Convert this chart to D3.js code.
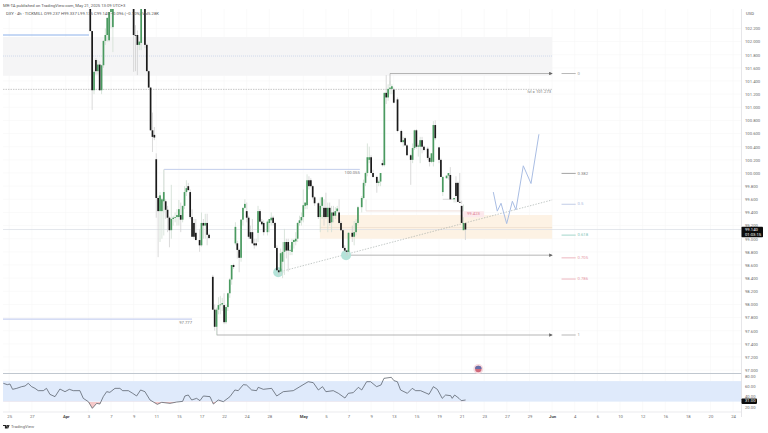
<!DOCTYPE html>
<html><head><meta charset="utf-8">
<script src="https://cdn.jsdelivr.net/npm/d3@7"></script>
<style>html,body{margin:0;padding:0;background:#fff}svg{display:block;font-family:Roboto,sans-serif}</style>
</head><body><svg id="c" width="768" height="433"></svg>
<script>
// bar number, counted in 4h bars from 3 Apr
const bars=[1,2,3,4,5,6,7,8,9,10,11,12,13,24,25,26,27,28,30,31,32,33,34,35,36,37,38,39,40,41,42,43,44,45,46,47,48,49,50,51,52,53,54,55,56,57,59,60,61,62,63,64,66,67,68,69,70,71,72,73,74,75,76,77,78,79,80,81,82,83,84,85,86,87,88,89,90,91,92,93,95,96,97,98,99,100,101,102,103,104,105,106,107,108,109,110,111,112,113,114,115,116,117,118,119,120,122,123,124,125,126,127,128,129,130,131,132,133,134,135,136,137,138,140,141,142,143,145,146,147,148,149,150,151,153,154,155,156,157,158,159,160,161,162,164,166,167,168,169,171,172,173,174,175,176,177,178,180,181,182,183,184,186,187,188,190,191,192,194,195,196,197,198,199,200];
const opens=[102.6,102.16,101.26,101.72,101.55,101.65,101.26,101.64,102.01,102.1,102.02,102.45,102.22,102.6,102.1,102.1,101.95,101.98,102.6,101.95,101.55,101.3,100.65,100.58,100.21,99.62,99.42,99.42,99.57,99.57,99.44,99.32,99.13,99.3,99.32,99.33,99.33,99.36,99.29,99.5,99.71,99.8,99.71,99.33,99.24,99.09,98.98,98.9,99.24,99.2,99.24,99.06,98.42,97.92,97.66,97.92,97.99,98,97.99,97.73,97.96,98.17,98.38,98.6,98.93,98.93,98.83,98.71,99.29,99.47,99.42,99.32,99.1,99.1,98.93,98.93,99.09,99.42,99.26,99.24,99.1,99.24,99.28,99.32,99.24,98.86,98.52,98.5,98.65,98.8,98.95,98.95,98.82,98.8,98.95,98.96,99,99.24,99.28,99.33,99.5,99.51,99.89,99.89,99.8,99.63,99.54,99.33,99.5,99.47,99.47,99.33,99.47,99.25,99.4,99.35,99.42,99.4,99.24,99.13,98.86,98.82,98.8,99.09,99.03,99.1,99.24,99.48,99.62,99.85,100,100.2,100.24,100,99.94,99.85,99.87,100.15,100.12,101.22,101.15,101.28,101.28,101.27,101.12,100.64,100.47,100.53,100.42,100.27,100.2,100.38,100.65,100.4,100.4,100.5,100.4,100.37,100.23,100.17,100.17,100.73,100.39,100.2,99.71,99.92,99.96,99.97,99.6,99.85,99.85,99.56,99.5,99.13,99.237];
const highs=[102.7,102.16,101.57,101.75,101.72,101.7,101.65,102.02,102.2,102.37,102.45,102.7,102.7,102.7,102.25,102.17,102,102.7,102.7,101.97,101.56,101.31,100.92,100.7,100.3,99.65,99.71,99.62,100.05,99.6,99.5,99.34,99.82,99.35,99.4,99.45,99.59,99.55,99.5,99.8,99.89,99.85,99.75,99.45,99.3,99.3,99.15,99.4,99.3,99.38,99.38,99.08,98.45,98,97.95,98.11,98.13,98.1,98.17,98,98.18,98.4,98.6,98.62,99.25,98.97,98.85,99.3,99.47,99.6,99.55,99.35,99.2,99.3,99,99,99.5,99.45,99.3,99.28,99.28,99.3,99.4,99.35,99.26,98.9,98.54,98.85,98.95,99.15,99,99,98.9,99,99,99.1,99.25,99.35,99.4,99.75,99.55,99.98,99.95,99.92,99.82,99.65,99.56,99.63,99.64,99.6,99.7,99.55,99.55,99.5,99.5,99.48,99.5,99.6,99.27,99.15,98.9,98.83,99.1,99.2,99.27,99.3,99.5,99.65,99.9,100.02,100.45,100.4,100.27,100.05,99.96,99.9,100,100.2,101.22,101.49,101.35,101.4,101.35,101.3,101.15,100.66,100.55,100.55,100.44,100.29,100.45,100.66,100.67,100.45,100.55,100.55,100.42,100.4,100.25,100.3,100.79,100.8,100.4,100.22,99.95,99.96,100,100.09,99.62,99.95,99.87,100,99.58,99.52,99.24,99.337];
const lows=[102.16,100.96,101.2,101.5,101.5,101.25,101.2,101.6,101.95,102,102,102.2,101.84,101.54,101.55,101.49,101.87,101.87,101.9,101.55,101.3,100.65,100.32,100.5,99.32,98.72,98.95,99,99.05,99.3,99.1,98.87,99,99.2,99.25,99.2,99.2,99.1,99.25,99.45,99.65,99.73,99.3,99.03,99,98.98,98.8,98.88,99,99,98.9,99,97.92,97.6,97.53,97.85,97.85,97.9,97.7,97.7,97.9,98.1,98.3,98.54,98.9,98.7,98.49,98.65,99.2,99.45,99.25,99,99,98.92,98.85,98.88,98.95,99.25,99.2,99.05,99.05,99.1,99.2,99.2,98.86,98.52,98.44,98.45,98.4,98.45,98.7,98.5,98.75,98.75,98.85,98.9,98.95,99.2,99.2,99.25,99.45,99.45,99.75,99.78,99.6,99.5,99.3,99.1,99.3,99.2,99.3,99.1,99.2,99.1,99.25,99.3,99.4,99.22,99.12,98.85,98.8,98.74,98.75,98.95,98.9,99.05,99.2,99.4,99.6,99.8,99.95,100.15,100,99.93,99.7,99.8,99.8,100.1,100.1,101.05,101.1,101.2,101.2,101.06,100.62,100.47,100.4,100.42,100.27,99.82,100.15,100.35,100.37,100.25,100.15,100.3,100.33,100.2,100.1,100.15,100.1,100.5,100.15,99.94,99.65,99.92,99.9,99.6,99.55,99.55,99.6,99.56,99.53,99.24,98.98,99.135];
const closes=[102.16,101.26,101.54,101.55,101.65,101.26,101.64,102.01,102.1,102.36,102.45,102.6,102.6,102.1,102.09,101.95,102,102.6,101.95,101.55,101.3,100.65,100.55,100.54,99.62,99.42,99.66,99.6,99.71,99.44,99.32,99.13,99.3,99.32,99.33,99.36,99.45,99.29,99.5,99.71,99.77,99.74,99.33,99.03,99.03,98.98,98.9,99.24,99.2,99.24,99.06,99.01,97.92,97.66,97.92,97.99,98,98.02,97.73,97.96,98.17,98.38,98.6,98.57,99.18,98.83,98.71,99.29,99.47,99.53,99.32,99.03,99,98.93,98.9,98.9,99.42,99.26,99.22,99.1,99.26,99.3,99.32,99.24,98.86,98.52,98.49,98.78,98.8,98.95,98.82,98.82,98.83,98.95,98.98,99,99.24,99.28,99.33,99.51,99.55,99.89,99.8,99.8,99.63,99.54,99.33,99.5,99.63,99.33,99.33,99.47,99.24,99.4,99.35,99.42,99.46,99.24,99.13,98.86,98.82,98.8,99.09,99.03,99.1,99.24,99.48,99.62,99.85,100,100.24,100.24,100,99.94,99.85,99.87,100,100.12,101.22,101.15,101.28,101.3,101.32,101.07,100.64,100.47,100.5,100.42,100.27,100.2,100.38,100.65,100.4,100.42,100.5,100.4,100.35,100.23,100.17,100.3,100.73,100.53,100.2,99.94,99.94,99.96,100,99.6,99.62,99.65,99.56,99.55,99.24,99.24,99.14];
const timeTickBars=[-42,-30,-12,0,12,24,36,48,60,72,84,96,114,126,138,150,162,174,186,198,210,222,234,246,258,270,282,294,306,318,330,342];
const timeTickLabels=["25","27","Apr","3","7","9","11","15","17","22","24","28","May","5","7","9","13","15","19","21","23","27","29","Jun","4","6","10","12","16","18","20","24"];
const priceTicks=[102.2,102,101.8,101.6,101.4,101.2,101,100.8,100.6,100.4,100.2,100,99.8,99.6,99.4,99.2,99,98.8,98.6,98.4,98.2,98,97.8,97.6,97.4,97.2,97];
const rsiTicks=[80,60,40,20];
const rsiBars=[-45.1,-43,-41.6,-40.2,-38,-35.4,-33.6,-31.9,-30.1,-28.3,-26.6,-23.9,-22.2,-20.4,-17.7,-15.1,-12.4,-10.1,-8,-4.5,-2.7,0,2.1,4.4,6.1,7.9,9.7,11.4,14.1,16.7,18.2,21.2,23.5,25.6,27.7,30,32.7,36.6,38.9,43.3,46.8,50,51.2,53,54.8,57.4,59.2,61,64.5,66.3,68.9,71.6,75.1,77.7,79.5,82.2,83.9,86.6,89.2,90.1,92.8,97.2,99.9,103.4,108.7,112.2,116.6,119.3,122,124.2,126,129.9,132.6,136.1,137.9,140.5,143.2,145,147.6,149.7,152.9,155.2,156.8,160.7,162.1,163.9,165.6,169.2,171.8,173.6,176.2,180.7,183,185.1,187.7,189.5,192.2,193,194.3,196.6,197.8,200.1];
const rsiValues=[65.7,63.1,64.4,54,55.9,59.2,60.5,65.7,59.2,55.9,51.4,51.4,55.9,44.2,39.7,54.6,49.4,54,51.4,51.4,36.4,29.9,16.9,26.6,25.3,39.7,49.4,48.1,55.9,55.9,51.4,51.4,46.2,41,52.7,49.4,33.2,24.7,28.6,26.6,29.2,30.5,41,42.9,33.2,36.4,31.9,41,39.7,25.3,33.2,29.9,39.7,52.7,51.4,63.1,62.4,52.7,51.4,57.9,54,55.9,41,49.4,51.4,59.2,68.9,67,52.7,59.2,49.4,51.4,46.2,37,46.2,47.5,57.9,52.7,68.9,68.9,59.2,62.4,75.4,77.4,70.9,68.9,52.7,46.2,55.9,51.4,51.4,44.2,59.2,54,36.4,42.9,41.6,36.4,42.9,36.4,31.9,33.2];
const projBars=[214.8,216.9,218.9,221.9,224.9,226.8,230.7,234.8,239];
const projPrices=[99.71,99.42,99.54,99.23,99.57,99.44,100.11,99.84,100.59];
const fibLevels=[0,0.382,0.5,0.618,0.705,0.786,1];
const fibLabels=["0","0.382","0.5","0.618","0.705","0.786","1"];
const fibColors=["#999","#808080","#a9b8dc","#7cc4b6","#e596a4","#e596a4","#999"];
const fibTop=101.514, fibBottom=97.535;
const lastPrice=99.14, lastRsi=31;

const W=768,H=433,svg=d3.select("#c");
const x=d3.scaleLinear().domain([-42,342]).range([9.2,733.1]);
const y=d3.scaleLinear().domain([101,98.2]).range([107.3,291.3]);
const yR=d3.scaleLinear().domain([80,20]).range([376,406.75]);
const L=3,R=741.5,T=9,B=373.5,RB=412;
const defs=svg.append("defs");
defs.append("clipPath").attr("id","pane").append("rect").attr("x",L).attr("y",T).attr("width",R-L).attr("height",B-T);
defs.append("clipPath").attr("id","below").append("rect").attr("x",L).attr("y",yR(30)).attr("width",R-L).attr("height",RB-yR(30));
defs.append("marker").attr("id","arr").attr("viewBox","0 0 6 6").attr("refX",5).attr("refY",3).attr("markerWidth",3.5).attr("markerHeight",3.5).attr("markerUnits","userSpaceOnUse").attr("orient","auto").append("path").attr("d","M0,0L6,3L0,6Z").attr("fill","#666");
svg.append("rect").attr("width",W).attr("height",H).attr("fill","#fff");

// grid
const grid=svg.append("g").attr("stroke","#f6f6f7").attr("stroke-width",.6);
grid.selectAll(".v").data(timeTickBars).join("line").attr("x1",d=>x(d)).attr("x2",d=>x(d)).attr("y1",T).attr("y2",RB);
grid.selectAll(".h").data(priceTicks).join("line").attr("x1",L).attr("x2",R).attr("y1",d=>y(d)).attr("y2",d=>y(d));

const g=svg.append("g").attr("clip-path","url(#pane)");
const hl=(p,a,b,c,w,dash)=>{const l=g.append("line").attr("x1",x(a)).attr("x2",x(b)).attr("y1",y(p)).attr("y2",y(p)).attr("stroke",c).attr("stroke-width",w);if(dash)l.attr("stroke-dasharray",dash);return l;};
const vl=(k,p1,p2,c,w)=>g.append("line").attr("x1",x(k)).attr("x2",x(k)).attr("y1",y(p1)).attr("y2",y(p2)).attr("stroke",c).attr("stroke-width",w);
const box=(a,b,p1,p2,f)=>g.append("rect").attr("x",x(a)).attr("width",x(b)-x(a)).attr("y",y(p1)).attr("height",y(p2)-y(p1)).attr("fill",f);

box(-45.3,246,102.07,101.48,"#f5f5f6");
hl(101.78,-45.3,246,"#b3c5e2",.6,"1 1");
hl(101.273,-45.3,246,"#a3a3a3",.6,"1.5 1");
hl(102.1,-45.3,0.3,"#7fa8e8",.9);
hl(100.055,40.1,144,"#bcc8ea",.9);
vl(40.1,100.055,99.4,"#e0e0e0",.8);
hl(97.777,-45.3,55,"#c7d0f0",1.1);
box(122.8,246,99.36,99,"#fdf2e4");
hl(99.17,122.8,246,"#ead9c6",.6);
hl(lastPrice,-45.3,400,"#d9dce4",.7);
hl(99.423,147.3,198.7,"#ead6d0",.8);
vl(147.3,99.6,99.423,"#dcdcdc",.7);
hl(99.6,188,194,"#cfcfcf",.8);
[[160,101.514,101.33],[68.2,97.535,97.66],[137.2,98.75,98.8]].forEach(d=>vl(d[0],d[1],d[2],"#b5b5b5",.8));
[[160,101.514],[137.2,98.75],[68.2,97.535]].forEach(d=>hl(d[1],d[0],246,"#a2a2a2",.8).attr("marker-end","url(#arr)"));
// trend
g.append("line").attr("x1",x(100.7)).attr("y1",y(98.49)).attr("x2",x(246)).attr("y2",y(99.59)).attr("stroke","#98a2a0").attr("stroke-width",.6).attr("stroke-dasharray","1.4 1.4");
g.selectAll(".dot").data([[100.7,98.49],[136.7,98.75]]).join("circle").attr("cx",d=>x(d[0])).attr("cy",d=>y(d[1])).attr("r",5).attr("fill","#b4e3d9");

// candles
const idx=d3.range(bars.length);
g.selectAll(".w").data(idx).join("line").attr("x1",i=>x(bars[i])).attr("x2",i=>x(bars[i])).attr("y1",i=>y(highs[i])).attr("y2",i=>y(lows[i])).attr("stroke",i=>closes[i]>=opens[i]?"#cfddd2":"#d0d0d0").attr("stroke-width",.8);
g.selectAll(".b").data(idx).join("rect").attr("x",i=>x(bars[i])-.85).attr("width",1.7).attr("y",i=>y(Math.max(opens[i],closes[i]))).attr("height",i=>Math.max(.8,Math.abs(y(opens[i])-y(closes[i])))).attr("fill",i=>closes[i]>=opens[i]?"#4a9a60":"#1a1a1a");

// projection
g.append("path").datum(d3.range(projBars.length)).attr("d",d3.line().x(i=>x(projBars[i])).y(i=>y(projPrices[i]))).attr("fill","none").attr("stroke","#a9bde3").attr("stroke-width",1);

// labels in pane
const txt=(X,Y,s,c,o={})=>svg.append("text").attr("x",X).attr("y",Y).attr("fill",c).attr("font-size",o.fs||4.2).attr("font-weight",o.fw||400).attr("text-anchor",o.a||"start").attr("dominant-baseline","middle").text(s);
txt(x(246)-1,y(101.273)+2.8,"lvl = 101.273","#777",{a:"end"});
txt(x(144),y(100.055)+3.4,"100.055","#777",{a:"end"});
txt(x(55),y(97.777)+3.3,"97.777","#777",{a:"end"});
svg.append("rect").attr("x",x(198.7)).attr("y",y(99.423)+.3).attr("width",21).attr("height",6).attr("fill","#fce8ec");
txt(x(198.7)+10.5,y(99.423)+3.4,"99.423","#dd8090",{a:"middle"});

// fib key
const fibY=f=>y(fibTop-(fibTop-fibBottom)*f);
svg.selectAll(".fl").data(fibLevels).join("line").attr("x1",x(251)).attr("x2",x(258.5)).attr("y1",fibY).attr("y2",fibY).attr("stroke",(d,i)=>fibColors[i]).attr("stroke-width",.7);
fibLevels.forEach((f,i)=>txt(x(259.5),fibY(f),fibLabels[i],fibColors[i]));

// panes
svg.append("rect").attr("x",L).attr("y",yR(70)).attr("width",R-L).attr("height",yR(30)-yR(70)).attr("fill","#dfeafb");
const ridx=d3.range(rsiBars.length);
svg.append("path").datum(ridx).attr("clip-path","url(#below)").attr("d",d3.area().x(i=>x(rsiBars[i])).y0(yR(30)).y1(i=>yR(rsiValues[i]))).attr("fill","#f6c9c9");
svg.append("path").datum(ridx).attr("d",d3.line().x(i=>x(rsiBars[i])).y(i=>yR(rsiValues[i]))).attr("fill","none").attr("stroke","#4a525c").attr("stroke-width",.7);
svg.append("line").attr("x1",L).attr("x2",R).attr("y1",B).attr("y2",B).attr("stroke","#b9c1ca").attr("stroke-width",.9);
svg.append("line").attr("x1",L).attr("x2",R).attr("y1",RB).attr("y2",RB).attr("stroke","#e2e3e6").attr("stroke-width",.7);
svg.append("line").attr("x1",R).attr("x2",R).attr("y1",T).attr("y2",RB+5).attr("stroke","#dfe0e3").attr("stroke-width",.8);

// flag
svg.append("circle").attr("cx",478.3).attr("cy",369).attr("r",5).attr("fill","#f5dde2");
svg.append("circle").attr("cx",478.3).attr("cy",369).attr("r",3.2).attr("fill","#d0697a");
svg.append("path").attr("d",d3.arc()({innerRadius:0,outerRadius:3.2,startAngle:-Math.PI/2,endAngle:Math.PI/2})).attr("transform","translate(478.3,369)").attr("fill","#6670aa");

// axes
const style=s=>{s.select(".domain").remove();s.selectAll(".tick line").remove();s.selectAll("text").attr("font-family","Roboto,sans-serif").attr("font-size",4.2).attr("fill","#6a6a6a");};
svg.append("g").attr("transform",`translate(${R+3.5},0)`).call(d3.axisRight(y).tickValues(priceTicks).tickSize(0).tickPadding(0).tickFormat(d3.format(".3f"))).call(style);
svg.append("g").attr("transform",`translate(${R+3.5},0)`).call(d3.axisRight(yR).tickValues(rsiTicks).tickSize(0).tickPadding(0).tickFormat(d3.format(".2f"))).call(style);
const tx=svg.append("g").attr("transform",`translate(0,${RB+2})`).call(d3.axisBottom(x).tickValues(timeTickBars).tickSize(0).tickPadding(1).tickFormat((d,i)=>timeTickLabels[i])).call(style);
tx.selectAll("text").filter(function(){return /[A-Za-z]/.test(this.textContent)}).attr("font-weight",700).attr("fill","#444");
txt(746,14,"USD","#555");

// last price tags
svg.append("rect").attr("x",R).attr("y",226.7).attr("width",21.5).attr("height",10.6).attr("rx",.8).attr("fill","#0c0c0c");
txt(745,229.5,lastPrice.toFixed(3),"#fff");
txt(745,234.5,"01:03:15","#fff");
svg.append("rect").attr("x",R).attr("y",yR(lastRsi)-2.6).attr("width",15.5).attr("height",5.4).attr("rx",.8).attr("fill","#0c0c0c");
txt(745,yR(lastRsi)+.1,lastRsi.toFixed(2),"#fff");

// header
txt(3,5.4,"MR-TA published on TradingView.com, May 21, 2025 13:09 UTC+3","#555");
txt(6,14,"DXY · 4h · TICKMILL  O99.237 H99.337 L99.135 C99.140 −0.096 (−0.10%) Vol5.28K","#555");
svg.append("path").attr("d","M3,425h3.2v3.6h-1.3v-2.5h-1.9zM6.8,425h1.3l-1,3.6h-1.2zM8.3,425h1.3l-1.4,3.6h-.9z").attr("fill","#222");
txt(11,427,"TradingView","#666");
</script></body></html>
